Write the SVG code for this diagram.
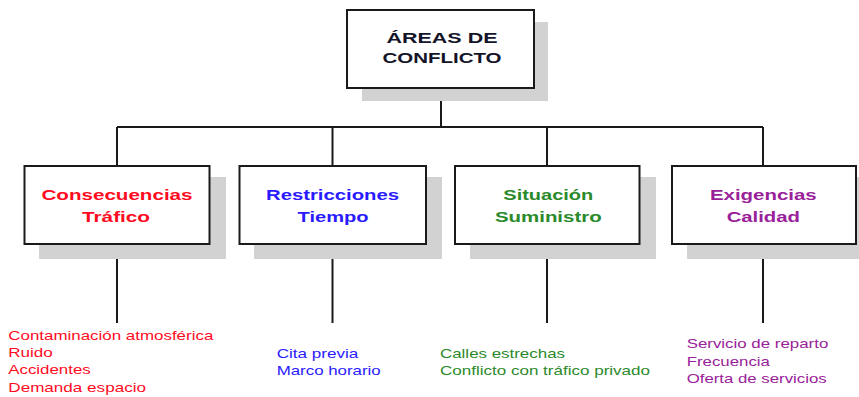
<svg xmlns="http://www.w3.org/2000/svg" width="859" height="397" viewBox="0 0 859 397">
<style>
.box{fill:#fff;stroke:#1a1a1a;stroke-width:2}
.shadow{fill:#d2d2d2}
.conn{stroke:#1a1a1a;stroke-width:2;fill:none}
.t{font-family:"Liberation Sans",Arial,sans-serif;font-weight:bold;font-size:15.5px;text-anchor:middle}
.l{font-family:"Liberation Sans",Arial,sans-serif;font-size:13.5px}
.red{fill:#ff0a1e}.blue{fill:#2a1aff}.green{fill:#2a8a2a}.purple{fill:#99229a}.dark{fill:#141428}
</style>
<rect width="859" height="397" fill="#fff"/>
<g id="connectors">
<path class="conn" d="M441 88V127M117 127H763M117 127V166M332.5 127V166M547 127V166M763 127V166"/>
<path class="conn" d="M117 244V323M332.5 244V323M547 244V323M763 244V323"/>
</g>
<g id="root">
<rect class="shadow" x="362" y="22" width="186" height="79"/>
<rect class="box" x="347" y="10" width="187" height="78"/>
<text class="t dark" x="442" y="43" textLength="111" lengthAdjust="spacingAndGlyphs">ÁREAS DE</text>
<text class="t dark" x="442" y="63" textLength="119" lengthAdjust="spacingAndGlyphs">CONFLICTO</text>
</g>
<g id="consecuencias">
<rect class="shadow" x="39" y="177" width="187" height="82"/>
<rect class="box" x="24.5" y="166" width="185" height="78"/>
<text class="t red" x="117" y="200" textLength="151" lengthAdjust="spacingAndGlyphs">Consecuencias</text>
<text class="t red" x="116" y="221.5" textLength="68" lengthAdjust="spacingAndGlyphs">Tráfico</text>
<g class="l red">
<text x="8.3" y="340" textLength="205" lengthAdjust="spacingAndGlyphs">Contaminación atmosférica</text>
<text x="8.3" y="357" textLength="44.4" lengthAdjust="spacingAndGlyphs">Ruido</text>
<text x="8.3" y="374" textLength="82.4" lengthAdjust="spacingAndGlyphs">Accidentes</text>
<text x="8.3" y="391.5" textLength="137.7" lengthAdjust="spacingAndGlyphs">Demanda espacio</text>
</g>
</g>
<g id="restricciones">
<rect class="shadow" x="254" y="177" width="188" height="82"/>
<rect class="box" x="239.5" y="166" width="186.5" height="78"/>
<text class="t blue" x="332.5" y="199.5" textLength="133" lengthAdjust="spacingAndGlyphs">Restricciones</text>
<text class="t blue" x="333" y="221.5" textLength="71" lengthAdjust="spacingAndGlyphs">Tiempo</text>
<g class="l blue">
<text x="276.7" y="357.7" textLength="81.6" lengthAdjust="spacingAndGlyphs">Cita previa</text>
<text x="276.7" y="375" textLength="104" lengthAdjust="spacingAndGlyphs">Marco horario</text>
</g>
</g>
<g id="situacion">
<rect class="shadow" x="470" y="177" width="186" height="82"/>
<rect class="box" x="455" y="166" width="184.5" height="78"/>
<text class="t green" x="548.3" y="199.5" textLength="90" lengthAdjust="spacingAndGlyphs">Situación</text>
<text class="t green" x="548.3" y="221.5" textLength="106.7" lengthAdjust="spacingAndGlyphs">Suministro</text>
<g class="l green">
<text x="440" y="357.7" textLength="125" lengthAdjust="spacingAndGlyphs">Calles estrechas</text>
<text x="440" y="375" textLength="210" lengthAdjust="spacingAndGlyphs">Conflicto con tráfico privado</text>
</g>
</g>
<g id="exigencias">
<rect class="shadow" x="687" y="177" width="172" height="82"/>
<rect class="box" x="672" y="166" width="184" height="78"/>
<text class="t purple" x="763.3" y="199.5" textLength="106.7" lengthAdjust="spacingAndGlyphs">Exigencias</text>
<text class="t purple" x="763.3" y="221.5" textLength="73.3" lengthAdjust="spacingAndGlyphs">Calidad</text>
<g class="l purple">
<text x="686.7" y="348" textLength="141.6" lengthAdjust="spacingAndGlyphs">Servicio de reparto</text>
<text x="686.7" y="365.7" textLength="83.3" lengthAdjust="spacingAndGlyphs">Frecuencia</text>
<text x="686.7" y="383.3" textLength="140" lengthAdjust="spacingAndGlyphs">Oferta de servicios</text>
</g>
</g>
</svg>
